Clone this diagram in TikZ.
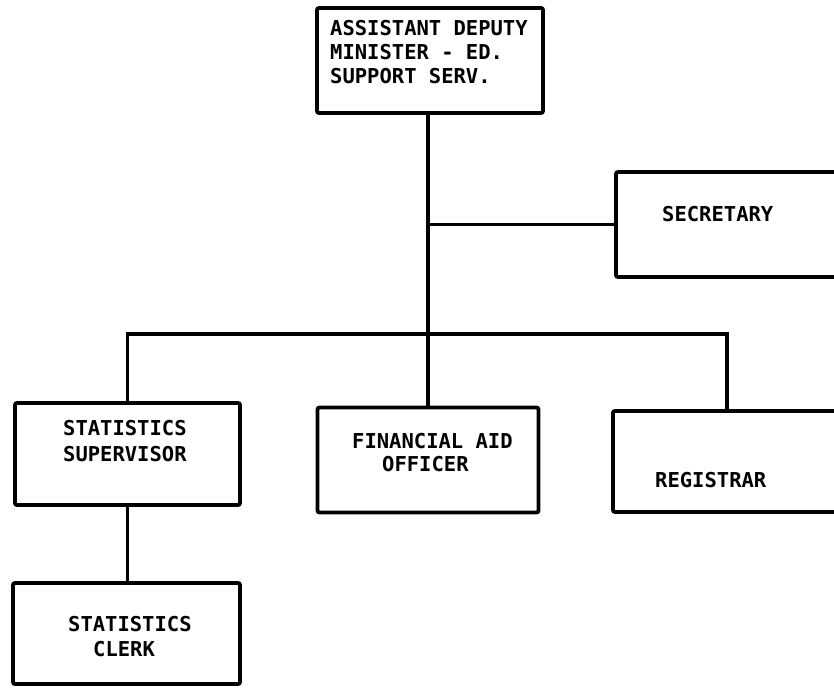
\documentclass[tikz,border=0pt]{standalone}
\usepackage{fontspec}
\newfontfamily\typewr{DejaVu Sans Mono}
\begin{document}
\begin{tikzpicture}[x=1pt,y=-1pt,
  orgbox/.style={draw, line width=3.8pt, rounded corners=2pt, rectangle, inner sep=0pt},
  lbl/.style={inner sep=0pt, anchor=north west, align=left},
  link/.style={line width=3.4pt}]
  \def\lblfont#1{\typewr\bfseries\fontsize{20.5}{#1}\selectfont}
  \useasboundingbox (0,0) rectangle (834,687);
  \begin{scope}
  \clip (0,0) rectangle (834,687);

  % boxes
  \node[orgbox, minimum width=226pt, minimum height=105pt] (adm) at (430,60.5) {};
  \node[orgbox, minimum width=234pt, minimum height=105pt] (sec) at (733,224.5) {};
  \node[orgbox, minimum width=225pt, minimum height=102pt] (sup) at (127.5,454) {};
  \node[orgbox, minimum width=221pt, minimum height=105pt] (fin) at (428,460) {};
  \node[orgbox, minimum width=228pt, minimum height=101pt] (reg) at (727,461.5) {};
  \node[orgbox, minimum width=227pt, minimum height=101pt] (clk) at (126.5,633.5) {};

  % labels
  \node[lbl, font=\lblfont{24}] (admtxt) at (330,20)
    {ASSISTANT DEPUTY\\MINISTER - ED.\\SUPPORT SERV.};
  \node[lbl, font=\lblfont{24}] (sectxt) at (662,206) {SECRETARY};
  \node[lbl, font=\lblfont{26}] (suptxt) at (63,420) {STATISTICS\\SUPERVISOR};
  \node[lbl, font=\lblfont{23}] (fintxt) at (352,433)
    {FINANCIAL AID\\\hspace*{30pt}OFFICER};
  \node[lbl, font=\lblfont{24}] (regtxt) at (655,472) {REGISTRAR};
  \node[lbl, font=\lblfont{25}] (clktxt) at (68,616)
    {STATISTICS\\\hspace*{25pt}CLERK};

  % connectors
  \coordinate (bar) at (428,334);
  \draw[link] (adm.south -| fin.north) -- (fin.north);
  \draw[link] (fin.north |- sec.west) -- (sec.west);
  \draw[link] (sup.north) |- (bar) -| (reg.north);
  \draw[link] (sup.south) -- (sup.south |- clk.north);
  \end{scope}
\end{tikzpicture}
\end{document}
